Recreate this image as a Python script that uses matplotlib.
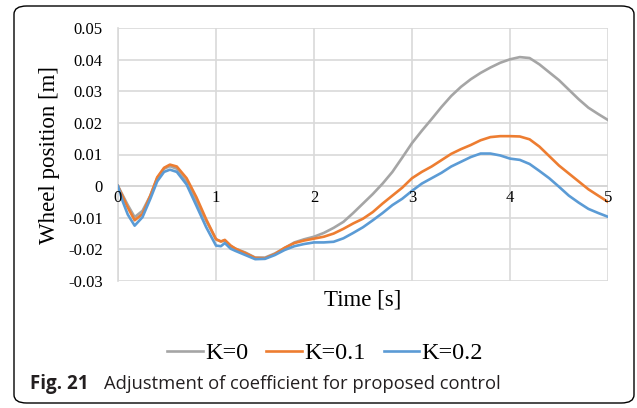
import matplotlib
matplotlib.use("Agg")
import matplotlib.pyplot as plt
from matplotlib.patches import FancyBboxPatch

time_s = [0, 0.05, 0.1, 0.17, 0.25, 0.33, 0.4, 0.47, 0.53, 0.6, 0.7, 0.8, 0.9,
          1.0, 1.05, 1.09, 1.15, 1.2, 1.3, 1.4, 1.5, 1.6, 1.7, 1.8, 1.9,
          2.0, 2.1, 2.2, 2.3, 2.4, 2.5, 2.6, 2.7, 2.8, 2.9,
          3.0, 3.1, 3.2, 3.3, 3.4, 3.5, 3.6, 3.7, 3.8, 3.9,
          4.0, 4.1, 4.2, 4.3, 4.4, 4.5, 4.6, 4.7, 4.8, 4.9, 5.0]

k0 = [0, -0.003, -0.006, -0.0098, -0.0078, -0.003, 0.0025, 0.0055, 0.0063, 0.0055,
      0.0012, -0.005, -0.011, -0.0168, -0.0175, -0.0172, -0.019, -0.0198, -0.021,
      -0.0226, -0.0226, -0.0213, -0.0196, -0.0178, -0.0168, -0.016, -0.0148, -0.0132,
      -0.0113, -0.0085, -0.0055, -0.0025, 0.0008, 0.0045, 0.009, 0.0136, 0.0175,
      0.0212, 0.025, 0.0285, 0.0314, 0.0338, 0.0358, 0.0375, 0.039, 0.0401, 0.0408,
      0.0405, 0.0385, 0.036, 0.0335, 0.0305, 0.0275, 0.0248, 0.0228, 0.0209]

k01 = [0, -0.0035, -0.0068, -0.0108, -0.0088, -0.003, 0.0028, 0.0058, 0.0068, 0.0062,
       0.0025, -0.0035, -0.0105, -0.0168, -0.0175, -0.017, -0.0188, -0.0198, -0.0212,
       -0.0227, -0.0228, -0.0215, -0.0195, -0.018, -0.0172, -0.0166, -0.016, -0.015,
       -0.0135, -0.0118, -0.0103, -0.0082, -0.0055, -0.003, -0.0005, 0.0025, 0.0045,
       0.0062, 0.0082, 0.0102, 0.0117, 0.013, 0.0145, 0.0155, 0.0158, 0.0158, 0.0157,
       0.0148, 0.0125, 0.0095, 0.0065, 0.004, 0.0015, -0.001, -0.003, -0.005]

k02 = [0, -0.005, -0.009, -0.0125, -0.0098, -0.004, 0.0015, 0.0045, 0.0052, 0.0045,
       0.0005, -0.0062, -0.013, -0.0188, -0.019, -0.018, -0.0198, -0.0205, -0.0218,
       -0.0231, -0.023, -0.0218, -0.0202, -0.019, -0.0183, -0.0178, -0.0178, -0.0176,
       -0.0165, -0.0148, -0.013, -0.0108, -0.0085, -0.006, -0.004, -0.0015, 0.0008,
       0.0025, 0.0042, 0.0062, 0.0077, 0.0092, 0.0103, 0.0103, 0.0097, 0.0087, 0.0083,
       0.007, 0.0048, 0.0025, -0.0002, -0.003, -0.0052, -0.0072, -0.0085, -0.0097]

series = [("K=0", k0, "#a5a5a5"), ("K=0.1", k01, "#ed7d31"), ("K=0.2", k02, "#5b9bd5")]

serif = ["Liberation Serif", "DejaVu Serif"]

fig = plt.figure(figsize=(6.37, 4.08), dpi=100)
ax = fig.add_axes([118 / 637, 1 - 281 / 408, 490 / 637, 253 / 408])

for label, vals, color in series:
    ax.plot(time_s, vals, color=color, lw=1.9, label=label, zorder=3)

ax.set_xlim(0, 5)
ax.set_ylim(-0.03, 0.05)
ax.set_yticks([-0.03, -0.02, -0.01, 0, 0.01, 0.02, 0.03, 0.04, 0.05])
ax.set_yticklabels(["-0.03", "-0.02", "-0.01", "0", "0.01", "0.02", "0.03", "0.04", "0.05"],
                   fontfamily=serif, fontsize=12)
ax.set_xticks([0, 1, 2, 3, 4, 5])
ax.set_xticklabels([])
ax.grid(True, color="#d9d9d9", lw=1.2, zorder=0)
ax.axhline(0, color="#bfbfbf", lw=1.2, zorder=1)
ax.tick_params(length=0, pad=11)
for s in ["top", "right", "bottom"]:
    ax.spines[s].set_visible(False)
ax.spines["left"].set_color("#d9d9d9")
ax.spines["left"].set_linewidth(1.2)

for t in [0, 1, 2, 3, 4, 5]:
    ax.text(t, -0.0012, str(t), ha="center", va="top", fontfamily=serif, fontsize=12, zorder=4)

ax.set_xlabel("Time [s]", fontfamily=serif, fontsize=16.5, labelpad=-5)
ax.set_ylabel("Wheel position [m]", fontfamily=serif, fontsize=16.5, labelpad=6)

handles, labels = ax.get_legend_handles_labels()
fig.legend(handles, labels, loc="center", bbox_to_anchor=(325 / 637, 1 - 353 / 408), ncol=3,
           frameon=False, prop={"family": serif, "size": 17.5}, handlelength=1.45,
           handletextpad=0.1, columnspacing=0.75)

fig.text(30 / 637, 1 - 384 / 408, "Fig. 21", fontfamily="Open Sans", fontweight="bold",
         fontsize=13.5, color="#231f20", va="center")
fig.text(104 / 637, 1 - 384 / 408, "Adjustment of coefficient for proposed control",
         fontfamily="Open Sans", fontsize=13.2, color="#231f20", va="center")

box = FancyBboxPatch((14 / 637, 5 / 408), 620 / 637, 397 / 408,
                     boxstyle="round,pad=0,rounding_size=0.02", transform=fig.transFigure,
                     fill=False, ec="black", lw=1.0)
fig.patches.append(box)

fig.savefig("out.png", dpi=100)
